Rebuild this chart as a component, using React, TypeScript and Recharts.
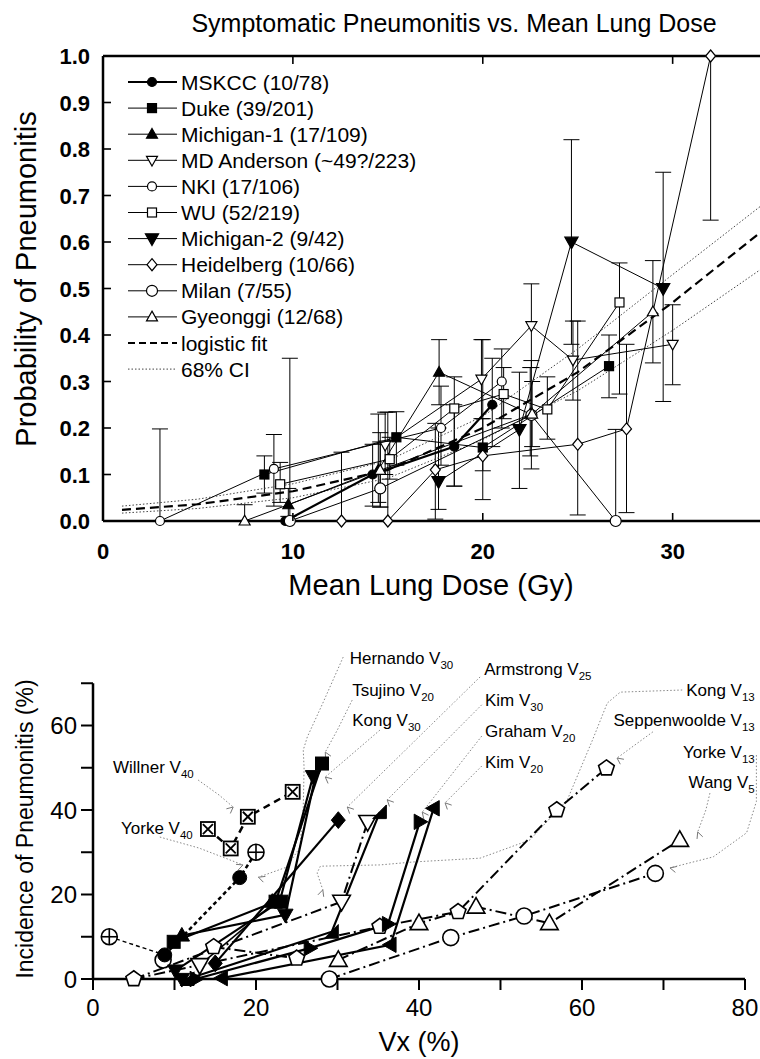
import React from 'react';
import { ComposedChart, Scatter, XAxis, YAxis, ErrorBar, ReferenceLine } from 'recharts';

const FONT = '"Liberation Sans", Arial, Helvetica, sans-serif';

// ================= TOP PANEL DATA =================
// [mean lung dose (Gy), probability, lower CI, upper CI]
const mskccPts = [[9.6, 0, 0, 0], [14.2, 0.10, 0.032, 0.165], [18.5, 0.16, 0.075, 0.25], [20.5, 0.25, 0.16, 0.35]];
const dukePts = [[8.5, 0.10, 0.06, 0.14], [15.45, 0.18, 0.12, 0.235], [20.0, 0.158, 0.108, 0.22], [26.65, 0.333, 0.265, 0.40]];
const mich1Pts = [[9.76, 0.035, 0.01, 0.07], [14.5, 0.11, 0.04, 0.23], [17.7, 0.32, 0.25, 0.39], [22.5, 0.23, 0.14, 0.33]];
const mdaPts = [[14.86, 0.163, 0.10, 0.234], [19.93, 0.305, 0.22, 0.39], [22.56, 0.42, 0.33, 0.51], [24.75, 0.346, 0.26, 0.43], [30.0, 0.38, 0.293, 0.465]];
const nkiPts = [[3.0, 0, 0, 0.198], [9.0, 0.112, 0.032, 0.186], [17.8, 0.20, 0.12, 0.29], [21.0, 0.30, 0.20, 0.37]];
const wuPts = [[9.33, 0.079, 0.04, 0.126], [15.1, 0.133, 0.09, 0.18], [18.5, 0.242, 0.075, 0.31], [21.1, 0.273, 0.22, 0.33], [23.4, 0.24, 0.176, 0.31], [27.2, 0.47, 0.273, 0.555]];
const mich2Pts = [[17.67, 0.085, 0.025, 0.2], [21.93, 0.197, 0.07, 0.32], [24.67, 0.60, 0.38, 0.82], [29.5, 0.50, 0.257, 0.75]];
const heidPts = [[12.56, 0, 0, 0.148], [15.0, 0, 0, 0.234], [17.5, 0.11, 0.004, 0.21], [20.0, 0.14, 0.046, 0.39], [25.0, 0.165, 0.013, 0.43], [27.57, 0.198, 0.018, 0.38], [32.0, 1.0, 0.647, 1.0]];
const milanPts = [[9.84, 0, 0, 0.35], [14.6, 0.07, 0.03, 0.17], [22.56, 0.228, 0.112, 0.345], [27.0, 0, 0, 0.197]];
const gyeongPts = [[7.46, 0, 0, 0.035], [14.6, 0.109, 0.03, 0.19], [22.6, 0.23, 0.16, 0.30], [28.96, 0.45, 0.34, 0.56]];

const fitDose = [1, 5, 10, 15, 20, 25, 30, 34.6];
const fitProb = [0.024, 0.036, 0.064, 0.11, 0.20, 0.32, 0.47, 0.62];
const ciUpper = [0.032, 0.047, 0.08, 0.13, 0.225, 0.37, 0.53, 0.676];
const ciLower = [0.017, 0.027, 0.05, 0.092, 0.175, 0.28, 0.41, 0.54];

const legendNames = ['MSKCC (10/78)', 'Duke (39/201)', 'Michigan-1 (17/109)', 'MD Anderson (~49?/223)', 'NKI (17/106)', 'WU (52/219)', 'Michigan-2 (9/42)', 'Heidelberg (10/66)', 'Milan (7/55)', 'Gyeonggi (12/68)', 'logistic fit', '68% CI'];

const topXTicks = [0, 10, 20, 30];
const topYTicks = [0, 0.1, 0.2, 0.3, 0.4, 0.5, 0.6, 0.7, 0.8, 0.9, 1.0];

// ================= BOTTOM PANEL DATA =================
// [Vx (%), incidence (%)]
const willnerV40 = [[14.1, 35.5], [16.9, 30.9], [19.0, 38.4], [24.5, 44.3]];
const yorkeV40 = [[2.0, 10.0], [20.0, 30.0]];
const yorkeV40Line = [[2.0, 10.0], [8.8, 5.7]];
const hernandoV30 = [[8.8, 5.7], [18.0, 24.0]];
const hernandoLine = [[8.8, 5.7], [18.0, 24.0], [20.0, 30.0]];
const yorkeV13 = [[8.6, 4.5], [29.0, 0], [43.9, 9.8], [52.9, 14.9], [69.0, 25.0]];
const yorkeV13Line = [[29.0, 0], [43.9, 9.8], [52.9, 14.9], [69.0, 25.0]];
const tsujinoV20 = [[9.9, 8.8], [22.4, 18.3], [23.1, 18.3], [28.1, 51.0]];
const tsujinoLine = [[9.9, 8.8], [22.4, 18.3], [28.1, 51.0]];
const kongV30 = [[10.1, 2.0], [10.9, 0], [23.6, 15.2], [27.0, 48.0]];
const kongV30Line = [[10.1, 2.0], [22.9, 18.3], [27.0, 48.0]];
const upFilled = [[10.9, 10.3], [22.0, 18.3]];
const upFilledLine = [[10.9, 10.3], [23.6, 15.2], [27.4, 49.0]];
const armstrongV25 = [[15.0, 3.7], [30.1, 37.6]];
const seppV13 = [[5.0, 0], [14.8, 7.6], [25.0, 4.9], [35.2, 12.4], [44.8, 15.9], [56.9, 40.0], [63.0, 49.9]];
const seppLineA = [[14.8, 7.6], [25.0, 4.9]];
const seppLineB = [[5.0, 0], [35.2, 12.4], [44.8, 15.9], [56.9, 40.0], [63.0, 49.9]];
const kongV13 = [[13.1, 3.3], [30.5, 18.3], [33.7, 37.2]];
const kongV13Line = [[5.0, 0], [30.5, 18.3], [33.7, 37.2]];
const kongV13Side = [[13.1, 3.3], [22.4, 18.3]];
const wangV5 = [[30.1, 4.5], [40.0, 13.2], [47.0, 17.1], [56.0, 13.2], [72.0, 32.9]];
const kimV30 = [[12.6, 0], [26.6, 7.3], [36.2, 13.0], [40.1, 37.2]];
const kimV20 = [[15.8, 0.2], [36.5, 8.1], [41.8, 40.4]];
const grahamV20 = [[11.6, 0], [29.3, 11.2], [35.2, 39.5]];

const leftLabels = [
  ['Willner V', '40', 2.45, 50.2], ['Yorke V', '40', 3.44, 35.7],
  ['Hernando V', '30', 31.5, 76.0], ['Tsujino V', '20', 31.8, 68.4], ['Kong V', '30', 31.8, 61.3],
  ['Armstrong V', '25', 48.0, 73.4], ['Kim V', '30', 48.1, 66.0], ['Graham V', '20', 48.1, 58.7], ['Kim V', '20', 48.1, 51.4],
];
const rightLabels = [
  ['Kong V', '13', 81.2, 68.4], ['Seppenwoolde V', '13', 81.2, 61.3], ['Yorke V', '13', 81.2, 53.7], ['Wang V', '5', 81.2, 46.6],
];

const leadWillner = [[12.9, 47.1], [15.5, 43.5], [17.2, 40.7]];
const leadYorke40 = [[8.2, 33.6], [13.0, 31.0], [18.4, 27.0]];
const leadHernando = [[30.7, 76.2], [28.2, 65.3], [26.3, 57.3], [25.8, 54.2], [25.9, 50.0], [25.8, 40.7], [25.4, 31.2], [23.8, 26.5], [20.3, 24.1]];
const leadTsujino = [[31.8, 66.0], [30.0, 59.0], [28.5, 53.7]];
const leadKong30 = [[35.2, 58.9], [28.5, 47.8]];
const leadArmstrong = [[47.5, 71.5], [31.2, 40.7]];
const leadKim30 = [[47.7, 64.9], [36.1, 42.4]];
const leadGraham = [[47.7, 57.5], [40.4, 39.5]];
const leadKim20 = [[47.7, 50.4], [43.2, 41.7]];
const leadKong13 = [[72.3, 68.4], [64.7, 67.9], [63.1, 65.3], [61.3, 56.6], [58.2, 42.4], [53.6, 32.9], [47.5, 28.6], [39.3, 27.7], [35.2, 27.0], [27.9, 26.7], [27.5, 25.1], [28.2, 21.1]];
const leadSepp = [[68.7, 58.5], [64.3, 52.3]];
const leadYorke13 = [[81.4, 53.0], [81.4, 42.0], [80.2, 34.6], [76.1, 28.9], [70.8, 26.3]];
const leadWang = [[75.7, 44.0], [75.2, 40.0], [74.2, 34.8]];

const botXTicks = [0, 10, 20, 30, 40, 50, 60, 70, 80];
const botYTicks = [0, 10, 20, 30, 40, 50, 60, 70];

// ================= MARKERS =================
function Marker({ kind, cx, cy, s, sw = 1.2 }: any) {
  const h = s / 2;
  const k = '#000';
  const poly = (pts: number[][], filled: boolean) => (
    <polygon points={pts.map((p) => p.join(',')).join(' ')} fill={filled ? k : '#fff'} stroke={k} strokeWidth={sw} />
  );
  switch (kind) {
    case 'circleF': return <circle cx={cx} cy={cy} r={h} fill={k} stroke={k} strokeWidth={sw} />;
    case 'circleO': return <circle cx={cx} cy={cy} r={h} fill="#fff" stroke={k} strokeWidth={sw} />;
    case 'squareF': return <rect x={cx - h} y={cy - h} width={s} height={s} fill={k} stroke={k} strokeWidth={sw} />;
    case 'squareO': return <rect x={cx - h} y={cy - h} width={s} height={s} fill="#fff" stroke={k} strokeWidth={sw} />;
    case 'upF': case 'upO':
      return poly([[cx, cy - h * 1.15], [cx + h * 1.1, cy + h * 0.8], [cx - h * 1.1, cy + h * 0.8]], kind === 'upF');
    case 'downF': case 'downO':
      return poly([[cx, cy + h * 1.15], [cx + h * 1.1, cy - h * 0.8], [cx - h * 1.1, cy - h * 0.8]], kind === 'downF');
    case 'diamondF': case 'diamondO':
      return poly([[cx, cy - h * 1.2], [cx + h, cy], [cx, cy + h * 1.2], [cx - h, cy]], kind === 'diamondF');
    case 'rightF':
      return poly([[cx + h * 1.15, cy], [cx - h * 0.8, cy - h * 1.1], [cx - h * 0.8, cy + h * 1.1]], true);
    case 'leftF':
      return poly([[cx - h * 1.15, cy], [cx + h * 0.8, cy - h * 1.1], [cx + h * 0.8, cy + h * 1.1]], true);
    case 'cornerF':
      return poly([[cx + h, cy - h * 1.1], [cx + h, cy + h], [cx - h * 1.1, cy + h]], true);
    case 'pentO': {
      const pts = [0, 1, 2, 3, 4].map((i) => {
        const a = (-90 + i * 72) * Math.PI / 180;
        return [cx + h * 1.1 * Math.cos(a), cy + h * 1.1 * Math.sin(a)];
      });
      return poly(pts, false);
    }
    case 'boxX':
      return (
        <g>
          <rect x={cx - h} y={cy - h} width={s} height={s} fill="#fff" stroke={k} strokeWidth={sw} />
          <line x1={cx - h + 2} y1={cy - h + 2} x2={cx + h - 2} y2={cy + h - 2} stroke={k} strokeWidth={sw} />
          <line x1={cx + h - 2} y1={cy - h + 2} x2={cx - h + 2} y2={cy + h - 2} stroke={k} strokeWidth={sw} />
        </g>
      );
    case 'plusC':
      return (
        <g>
          <circle cx={cx} cy={cy} r={h} fill="#fff" stroke={k} strokeWidth={sw} />
          <line x1={cx - h} y1={cy} x2={cx + h} y2={cy} stroke={k} strokeWidth={sw} />
          <line x1={cx} y1={cy - h} x2={cx} y2={cy + h} stroke={k} strokeWidth={sw} />
        </g>
      );
    default: return <g />;
  }
}

const noShape = () => <g />;

// ================= TOP CHART =================
const toErrPts = (arr: number[][]) => arr.map(([x, y, lo, hi]) => ({ x, y, err: [y - lo, hi - y] }));
const toXY = (xs: number[], ys: number[]) => xs.map((x, i) => ({ x, y: ys[i] }));

const topSeries = [
  { data: mskccPts, kind: 'circleF', s: 9, lw: 2.2 },
  { data: dukePts, kind: 'squareF', s: 9, lw: 1 },
  { data: mich1Pts, kind: 'upF', s: 10, lw: 1 },
  { data: mdaPts, kind: 'downO', s: 10, lw: 1 },
  { data: nkiPts, kind: 'circleO', s: 9, lw: 1 },
  { data: wuPts, kind: 'squareO', s: 9, lw: 1 },
  { data: mich2Pts, kind: 'downF', s: 12, lw: 1 },
  { data: heidPts, kind: 'diamondO', s: 10, lw: 1 },
  { data: milanPts, kind: 'circleO', s: 11, lw: 1 },
  { data: gyeongPts, kind: 'upO', s: 10, lw: 1 },
];

function TopXTick(p: any) {
  const { x, y, payload } = p;
  return (
    <g>
      {payload.value !== 0 && <line x1={x} x2={x} y1={y} y2={y - 8} stroke="#000" strokeWidth={1.6} />}
      <text x={x} y={y + 38} textAnchor="middle" fontFamily={FONT} fontWeight="bold" fontSize={22} fill="#000">{payload.value}</text>
    </g>
  );
}
function TopYTick(p: any) {
  const { x, y, payload } = p;
  return (
    <g>
      <line x1={x} x2={x + 8} y1={y} y2={y} stroke="#000" strokeWidth={1.6} />
      <text x={x - 13} y={y + 8} textAnchor="end" fontFamily={FONT} fontWeight="bold" fontSize={22} fill="#000">{Number(payload.value).toFixed(1)}</text>
    </g>
  );
}

function TopChart() {
  return (
    <ComposedChart width={760} height={610} margin={{ top: 56, right: 0, bottom: 49, left: 43 }}>
      <XAxis dataKey="x" type="number" domain={[0, 34.6]} ticks={topXTicks} interval={0} height={40}
        tickSize={0} tickMargin={0} tick={TopXTick} axisLine={{ stroke: '#000', strokeWidth: 2.5 }} tickLine={false} />
      <YAxis dataKey="y" type="number" domain={[0, 1]} ticks={topYTicks} interval={0} width={60}
        tickSize={0} tickMargin={0} tick={TopYTick} axisLine={{ stroke: '#000', strokeWidth: 2.5 }} tickLine={false} />
      <ReferenceLine y={1} stroke="#000" strokeWidth={2.5} />
      {topXTicks.filter((v) => v > 0).map((v) => (
        <ReferenceLine key={'tt' + v} segment={[{ x: v, y: 1 }, { x: v, y: 0.983 }]} stroke="#000" strokeWidth={1.6} />
      ))}
      <Scatter data={toXY(fitDose, ciUpper)} shape={noShape} line={{ stroke: '#444', strokeWidth: 1, strokeDasharray: '1.5 2' }} lineType="joint" isAnimationActive={false} />
      <Scatter data={toXY(fitDose, ciLower)} shape={noShape} line={{ stroke: '#444', strokeWidth: 1, strokeDasharray: '1.5 2' }} lineType="joint" isAnimationActive={false} />
      <Scatter data={toXY(fitDose, fitProb)} shape={noShape} line={{ stroke: '#000', strokeWidth: 2.2, strokeDasharray: '9 5' }} lineType="joint" isAnimationActive={false} />
      {topSeries.map((s, i) => (
        <Scatter key={'ts' + i} data={toErrPts(s.data)} line={{ stroke: '#000', strokeWidth: s.lw }} lineType="joint"
          shape={(p: any) => <Marker kind={s.kind} cx={p.cx} cy={p.cy} s={s.s} />} isAnimationActive={false}>
          <ErrorBar dataKey="err" direction="y" width={8} stroke="#000" strokeWidth={1} />
        </Scatter>
      ))}
    </ComposedChart>
  );
}

// ================= BOTTOM CHART =================
const PXX = 8.15;
const PXY = 4.225;
const toPts = (arr: number[][]) => arr.map(([x, y]) => ({ x, y }));
const toLeader = (arr: number[][]) => arr.map(([x, y], i) => {
  const last = i === arr.length - 1;
  let ang = 0;
  if (last && i > 0) {
    const [x0, y0] = arr[i - 1];
    ang = Math.atan2(-(y - y0) * PXY, (x - x0) * PXX);
  }
  return { x, y, tip: last, ang };
});

const SOLID = { stroke: '#000', strokeWidth: 2.2 };
const DASHDOT = { stroke: '#000', strokeWidth: 2, strokeDasharray: '11 4 2 4' };
const DASHED = { stroke: '#000', strokeWidth: 2.5, strokeDasharray: '7 5' };
const FINEDASH = { stroke: '#000', strokeWidth: 2.5, strokeDasharray: '4 3' };
const THINDASH = { stroke: '#000', strokeWidth: 1.4, strokeDasharray: '4 3' };

const botLines = [
  { pts: willnerV40, st: DASHED },
  { pts: yorkeV40Line, st: THINDASH },
  { pts: hernandoLine, st: FINEDASH },
  { pts: tsujinoLine, st: SOLID },
  { pts: kongV30Line, st: SOLID },
  { pts: upFilledLine, st: SOLID },
  { pts: armstrongV25, st: SOLID },
  { pts: kongV13Line, st: DASHDOT },
  { pts: kongV13Side, st: { stroke: '#000', strokeWidth: 1.6 } },
  { pts: grahamV20, st: SOLID },
  { pts: kimV30, st: SOLID },
  { pts: kimV20, st: SOLID },
  { pts: seppLineA, st: DASHDOT },
  { pts: seppLineB, st: DASHDOT },
  { pts: wangV5, st: DASHDOT },
  { pts: yorkeV13Line, st: DASHDOT },
];

const botMarkers = [
  { pts: yorkeV13, kind: 'circleO', s: 16, sw: 1.6 },
  { pts: seppV13, kind: 'pentO', s: 15, sw: 1.6 },
  { pts: wangV5, kind: 'upO', s: 16, sw: 1.6 },
  { pts: kongV13, kind: 'downO', s: 16, sw: 1.6 },
  { pts: willnerV40, kind: 'boxX', s: 14, sw: 1.8 },
  { pts: yorkeV40, kind: 'plusC', s: 16, sw: 1.6 },
  { pts: hernandoV30, kind: 'circleF', s: 14, sw: 1 },
  { pts: tsujinoV20, kind: 'squareF', s: 13, sw: 1 },
  { pts: kongV30, kind: 'downF', s: 14, sw: 1 },
  { pts: upFilled, kind: 'upF', s: 14, sw: 1 },
  { pts: armstrongV25, kind: 'diamondF', s: 14, sw: 1 },
  { pts: grahamV20, kind: 'cornerF', s: 13, sw: 1 },
  { pts: kimV30, kind: 'rightF', s: 14, sw: 1 },
  { pts: kimV20, kind: 'leftF', s: 14, sw: 1 },
];

const leaders = [leadWillner, leadYorke40, leadHernando, leadTsujino, leadKong30, leadArmstrong, leadKim30, leadGraham, leadKim20, leadKong13, leadSepp, leadYorke13, leadWang];

const labelData = [
  ...leftLabels.map(([main, sub, x, y]) => ({ main, sub, x, y, anchor: 'start' })),
  ...rightLabels.map(([main, sub, x, y]) => ({ main, sub, x, y, anchor: 'end' })),
];

function LabelShape(p: any) {
  const d = p.payload;
  return (
    <text x={p.cx} y={p.cy + 6} textAnchor={d.anchor} fontFamily={FONT} fontSize={17} fill="#000">
      {d.main}<tspan fontSize={11.5} dy={5}>{d.sub}</tspan>
    </text>
  );
}

function ArrowShape(p: any) {
  const d = p.payload;
  if (!d || !d.tip) return <g />;
  const a = d.ang;
  const L = 7;
  const sp = 0.45;
  const x1 = p.cx - L * Math.cos(a - sp);
  const y1 = p.cy + L * Math.sin(a - sp);
  const x2 = p.cx - L * Math.cos(a + sp);
  const y2 = p.cy + L * Math.sin(a + sp);
  return <polyline points={`${x1},${y1} ${p.cx},${p.cy} ${x2},${y2}`} fill="none" stroke="#777" strokeWidth={1} />;
}

function BotXTick(p: any) {
  const { x, y, payload } = p;
  const v = payload.value;
  return (
    <g>
      <line x1={x} x2={x} y1={y} y2={y + 11} stroke="#000" strokeWidth={2} />
      {v % 20 === 0 && <text x={x} y={y + 37} textAnchor="middle" fontFamily={FONT} fontSize={24} fill="#000">{v}</text>}
    </g>
  );
}
function BotYTick(p: any) {
  const { x, y, payload } = p;
  const v = payload.value;
  return (
    <g>
      <line x1={x} x2={x - 12} y1={y} y2={y} stroke="#000" strokeWidth={2} />
      {v % 20 === 0 && <text x={x - 16} y={y + 8.5} textAnchor="end" fontFamily={FONT} fontSize={24} fill="#000">{v}</text>}
    </g>
  );
}

function BottomChart() {
  return (
    <ComposedChart width={760} height={451} margin={{ top: 33, right: 2.8, bottom: 40, left: 33 }}>
      <XAxis dataKey="x" type="number" domain={[0, 81.5]} ticks={botXTicks} interval={0} height={40}
        tickSize={0} tickMargin={0} tick={BotXTick} axisLine={false} tickLine={false} />
      <YAxis dataKey="y" type="number" domain={[0, 80]} ticks={botYTicks} interval={0} width={60}
        tickSize={0} tickMargin={0} tick={BotYTick} axisLine={false} tickLine={false} />
      <ReferenceLine segment={[{ x: 0, y: 0 }, { x: 80, y: 0 }]} stroke="#000" strokeWidth={2.5} ifOverflow="visible" />
      <ReferenceLine segment={[{ x: 0, y: 0 }, { x: 0, y: 70 }]} stroke="#000" strokeWidth={2.5} ifOverflow="visible" />
      {leaders.map((l, i) => (
        <Scatter key={'ld' + i} data={toLeader(l)} shape={ArrowShape} line={{ stroke: '#888', strokeWidth: 1, strokeDasharray: '1.5 2' }} lineType="joint" isAnimationActive={false} />
      ))}
      {botLines.map((l, i) => (
        <Scatter key={'bl' + i} data={toPts(l.pts)} shape={noShape} line={l.st} lineType="joint" isAnimationActive={false} />
      ))}
      {botMarkers.map((m, i) => (
        <Scatter key={'bm' + i} data={toPts(m.pts)} isAnimationActive={false}
          shape={(p: any) => <Marker kind={m.kind} cx={p.cx} cy={p.cy} s={m.s} sw={m.sw} />} />
      ))}
      <Scatter data={labelData} shape={LabelShape} isAnimationActive={false} />
    </ComposedChart>
  );
}

// ================= LEGEND / TITLES =================
function TopLegend() {
  const rows = legendNames.map((name, i) => {
    const y = 82 + i * 26.1;
    let icon: any;
    if (i < topSeries.length) {
      const s = topSeries[i];
      icon = (
        <g>
          <line x1={128} x2={177} y1={y} y2={y} stroke="#000" strokeWidth={s.lw === 1 ? 1 : 2} />
          <Marker kind={s.kind} cx={152} cy={y} s={s.s} />
        </g>
      );
    } else if (i === topSeries.length) {
      icon = <line x1={128} x2={177} y1={y} y2={y} stroke="#000" strokeWidth={2.2} strokeDasharray="7 4" />;
    } else {
      icon = <line x1={128} x2={177} y1={y} y2={y} stroke="#444" strokeWidth={1} strokeDasharray="1.5 2" />;
    }
    return (
      <g key={'lg' + i}>
        {icon}
        <text x={181} y={y + 7.5} fontFamily={FONT} fontSize={21} fill="#000">{name}</text>
      </g>
    );
  });
  return <g>{rows}</g>;
}

export default function App() {
  return (
    <div style={{ position: 'fixed', left: 0, top: 0, width: 760, height: 1059, background: '#fff', overflow: 'hidden' }}>
      <div style={{ position: 'absolute', left: 0, top: 0 }}><TopChart /></div>
      <div style={{ position: 'absolute', left: 0, top: 608 }}><BottomChart /></div>
      <svg width={760} height={1059} style={{ position: 'absolute', left: 0, top: 0, pointerEvents: 'none' }}>
        <text x={454} y={32} textAnchor="middle" fontFamily={FONT} fontSize={25} fill="#000">Symptomatic Pneumonitis vs. Mean Lung Dose</text>
        <text x={431} y={595} textAnchor="middle" fontFamily={FONT} fontSize={29} fill="#000">Mean Lung Dose (Gy)</text>
        <text transform="translate(36,279) rotate(-90)" textAnchor="middle" fontFamily={FONT} fontSize={29} fill="#000">Probability of Pneumonitis</text>
        <TopLegend />
        <text transform="translate(33,829) rotate(-90)" textAnchor="middle" fontFamily={FONT} fontSize={23} fill="#000">Incidence of Pneumonitis (%)</text>
        <text x={419} y={1051} textAnchor="middle" fontFamily={FONT} fontSize={27} fill="#000">Vx (%)</text>
      </svg>
    </div>
  );
}
